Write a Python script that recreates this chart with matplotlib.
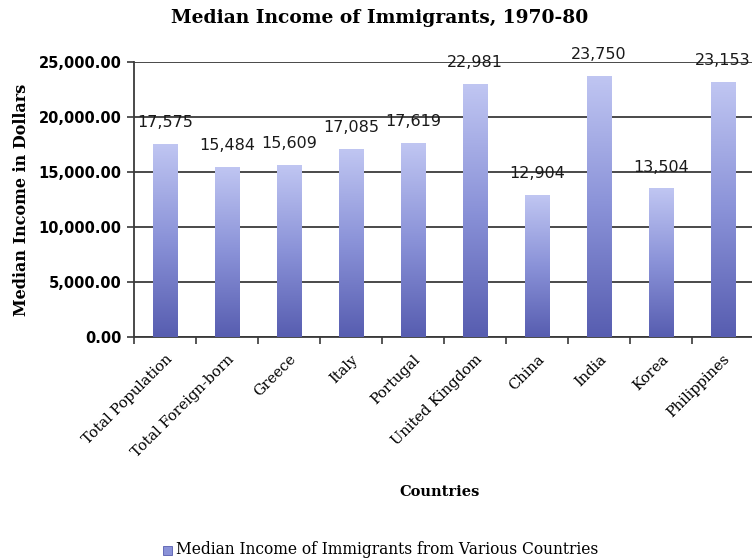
import numpy as np
import matplotlib
matplotlib.use('Agg')
import matplotlib.pyplot as plt
from matplotlib.colors import LinearSegmentedColormap
from matplotlib.patches import Rectangle

countries = ['Total Population', 'Total Foreign-born', 'Greece', 'Italy', 'Portugal',
             'United Kingdom', 'China', 'India', 'Korea', 'Philippines']
income = [17575, 15484, 15609, 17085, 17619, 22981, 12904, 23750, 13504, 23153]
yticks = [0, 5000, 10000, 15000, 20000, 25000]

serif = ['DejaVu Serif']
sans = ['DejaVu Sans']

fig = plt.figure(figsize=(7.52, 5.6), dpi=100)
ax = fig.add_axes([134/752, 1-337/560, 620/752, 275/560])

# bar gradient, light at top, dark at bottom
cmap = LinearSegmentedColormap.from_list('bar', ['#575db0', '#8a92d8', '#c0c6f2'])
grad = np.linspace(0, 1, 256).reshape(-1, 1)

x = np.arange(len(countries))
bw = 0.39
for xi, v in zip(x, income):
    rect = Rectangle((xi - bw/2, 0), bw, v, facecolor='none', edgecolor='none')
    ax.add_patch(rect)
    im = ax.imshow(grad, cmap=cmap, origin='lower', aspect='auto',
                   extent=(xi - bw/2, xi + bw/2, 0, v), zorder=3)
    im.set_clip_path(rect)
    ax.annotate(f'{v:,}', (xi, v), xytext=(0, 10), textcoords='offset points',
                ha='center', va='bottom', fontsize=11.5, family=sans, color='#1a1a1a', zorder=5)

ax.set_xlim(-0.5, len(countries) - 0.5)
ax.set_ylim(0, 25000)
ax.set_yticks(yticks)
ax.set_yticklabels([f'{t:,.2f}' for t in yticks], family=sans, fontweight='bold', fontsize=10.5)
ax.yaxis.grid(True, color='#3a3a3a', linewidth=1.3, zorder=1)
ax.set_axisbelow(True)

ax.set_xticks(x)
ax.set_xticklabels(countries, rotation=45, ha='right', rotation_mode='anchor',
                   family=serif, fontsize=10.5)
ax.tick_params(axis='x', length=0, pad=11)
ax.set_xticks(np.arange(len(countries) + 1) - 0.5, minor=True)
ax.tick_params(axis='x', which='minor', length=5, color='#3a3a3a', width=1.2)
ax.tick_params(axis='y', length=5, color='#3a3a3a', width=1.2, pad=4)

for s in ['top', 'right']:
    ax.spines[s].set_visible(False)
for s in ['left', 'bottom']:
    ax.spines[s].set_color('#3a3a3a')
    ax.spines[s].set_linewidth(1.3)

ax.set_ylabel('Median Income in Dollars', family=serif, fontweight='bold', fontsize=11.5, labelpad=6)
fig.text(440/752, 1-492/560, 'Countries', family=serif, fontweight='bold', fontsize=10.5,
         ha='center', va='center')
fig.text(380/752, 1-18/560, 'Median Income of Immigrants, 1970-80', family=serif,
         fontweight='bold', fontsize=13.4, ha='center', va='center')

# legend
fig.patches.append(Rectangle((163/752, 1-555/560), 9/752, 9/560, transform=fig.transFigure,
                             facecolor='#8a92d8', edgecolor='#575db0', linewidth=0.6))
fig.text(176/752, 1-550/560, 'Median Income of Immigrants from Various Countries',
         family=serif, fontsize=11.2, ha='left', va='center')

fig.savefig('out.png', dpi=100)
